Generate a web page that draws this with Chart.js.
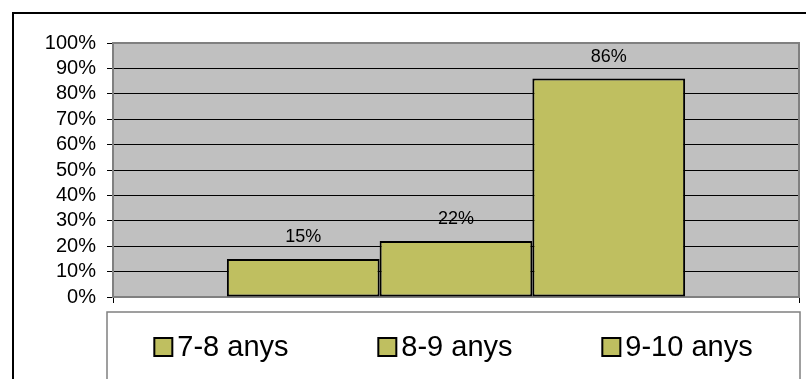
<!DOCTYPE html>
<html>
<head>
<meta charset="utf-8">
<script src="https://cdn.jsdelivr.net/npm/chart.js@4"></script>
<style>
  body { margin: 0; background: #fff; }
  #wrap { width: 806px; height: 379px; }
</style>
</head>
<body>
<div id="wrap"><canvas id="myChart" width="806" height="379"></canvas></div>
<script>
// data
var seriesNames = ['7-8 anys', '8-9 anys', '9-10 anys'];
var seriesValues = [15, 22, 86];
var categories = [''];
var yMin = 0, yMax = 100, yStep = 10;

var FONT = '"Liberation Sans", Arial, sans-serif';
var barColor = '#bfbf60';

// frame, gray plot area, legend box
var decor = {
    id: 'decor',
    beforeDraw: function(chart) {
        var c = chart.ctx, a = chart.chartArea;
        c.save();
        c.fillStyle = '#fff';
        c.fillRect(0, 0, chart.width, chart.height);
        c.strokeStyle = '#000';
        c.lineWidth = 2;
        c.strokeRect(13, 13, chart.width + 20, chart.height + 20);
        c.fillStyle = '#c0c0c0';
        c.fillRect(a.left, a.top, a.right - a.left, a.bottom - a.top);
        c.restore();
    },
    beforeDatasetsDraw: function(chart) {
        var c = chart.ctx, a = chart.chartArea;
        c.save();
        c.strokeStyle = '#808080';
        c.lineWidth = 2;
        c.strokeRect(a.left, a.top, a.right - a.left, a.bottom - a.top);
        c.restore();
    },
    afterDraw: function(chart) {
        var c = chart.ctx, a = chart.chartArea;
        // value labels above bars
        c.save();
        c.fillStyle = '#000';
        c.font = '18px ' + FONT;
        c.textAlign = 'center';
        c.textBaseline = 'alphabetic';
        chart.data.datasets.forEach(function(ds, i) {
            var bar = chart.getDatasetMeta(i).data[0];
            c.fillText(ds.data[0] + '%', bar.x, bar.y - 17);
        });
        // legend box
        var top = a.bottom + 15;
        c.strokeStyle = '#808080';
        c.lineWidth = 1.5;
        c.strokeRect(a.left - 6, top, a.right - a.left + 7, chart.height - top + 10);
        c.font = '29px ' + FONT;
        c.textAlign = 'left';
        c.textBaseline = 'middle';
        var step = 224, box = 18;
        var lastW = box + 5 + c.measureText(chart.data.datasets[2].label).width;
        var x = (a.left - 6 + a.right + 1) / 2 - (2 * step + lastW) / 2;
        var cy = top + 35;
        chart.data.datasets.forEach(function(ds) {
            c.fillStyle = ds.backgroundColor;
            c.fillRect(x, cy - box / 2, box, box);
            c.strokeStyle = '#000';
            c.lineWidth = 2;
            c.strokeRect(x, cy - box / 2, box, box);
            c.fillStyle = '#000';
            c.fillText(ds.label, x + box + 5, cy + 1);
            x += step;
        });
        c.restore();
    }
};

var myDatasets = seriesNames.map(function(name, i) {
    return {
        label: name,
        data: [seriesValues[i]],
        backgroundColor: barColor,
        borderColor: '#000',
        borderWidth: 2,
        borderSkipped: false,
        barPercentage: 1,
        categoryPercentage: 0.668
    };
});

var ctx = document.getElementById('myChart').getContext('2d');
var chart = new Chart(ctx, {
    type: 'bar',
    data: {
        labels: categories,
        datasets: myDatasets
    },
    plugins: [decor],
    options: {
        responsive: false,
        animation: false,
        layout: { padding: { left: 13, right: 7, top: 43, bottom: 0 } },
        plugins: {
            legend: { display: false },
            tooltip: { enabled: false }
        },
        scales: {
            x: {
                afterFit: function(s) { s.height = 82; },
                grid: {
                    drawOnChartArea: false,
                    offset: true,
                    tickLength: 6,
                    color: '#000',
                    lineWidth: 1
                },
                border: { display: false },
                ticks: { display: false }
            },
            y: {
                min: yMin,
                max: yMax,
                afterFit: function(s) { s.width = 100; },
                grid: {
                    tickLength: 6,
                    tickColor: '#000',
                    lineWidth: 1,
                    color: function(c) {
                        var v = c.tick ? c.tick.value : null;
                        return (v === yMin || v === yMax) ? 'rgba(0,0,0,0)' : '#000';
                    }
                },
                border: { display: false },
                ticks: {
                    stepSize: yStep,
                    autoSkip: false,
                    padding: 11,
                    color: '#000',
                    font: { family: FONT, size: 20 },
                    callback: function(v) { return v + '%'; }
                }
            }
        }
    }
});
</script>
</body>
</html>
